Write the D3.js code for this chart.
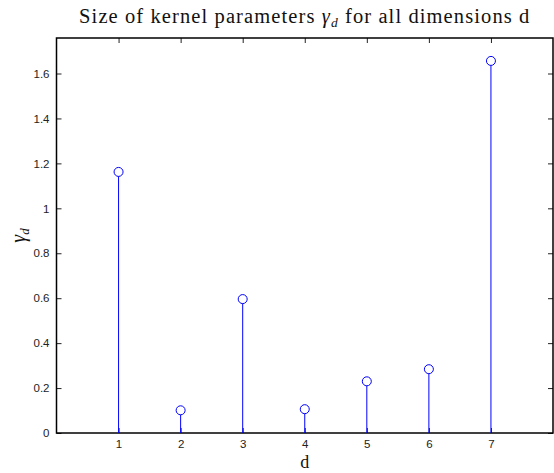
<!DOCTYPE html>
<html>
<head>
<meta charset="utf-8">
<script src="https://cdn.jsdelivr.net/npm/d3@7"></script>
<style>
  body { margin: 0; background: #fff; }
  .tick text { font-family: "Liberation Sans", Arial, sans-serif; font-size: 11.5px; fill: #222; }
</style>
</head>
<body>
<div id="chart"></div>
<script>
var svgWidth = 554;
var svgHeight = 473;
var margin = { top: 38, right: 1, bottom: 40, left: 56.5 };
var width = svgWidth - margin.left - margin.right;
var height = svgHeight - margin.top - margin.bottom;

// data
var dims = [1, 2, 3, 4, 5, 6, 7];
var gammas = [1.162, 0.101, 0.596, 0.106, 0.230, 0.284, 1.656];
var yTicks = [0, 0.2, 0.4, 0.6, 0.8, 1, 1.2, 1.4, 1.6];

var svg = d3.select("#chart")
  .append("svg")
  .attr("width", svgWidth)
  .attr("height", svgHeight);

var chartGroup = svg.append("g")
  .attr("transform", `translate(${margin.left}, ${margin.top})`);

var x = d3.scaleLinear().domain([0, 8]).range([0, width]);
var y = d3.scaleLinear().domain([0, 1.758]).range([height, 0]);

// axes with inward ticks
var bottomAxis = d3.axisBottom(x).tickValues(dims).tickSizeInner(-5).tickSizeOuter(0).tickPadding(7).tickFormat(d3.format("d"));
var leftAxis = d3.axisLeft(y).tickValues(yTicks).tickSizeInner(-5).tickSizeOuter(0).tickPadding(7).tickFormat(d => d === 0 ? "0" : String(+d.toFixed(1)));
var topAxis = d3.axisTop(x).tickValues(dims).tickSizeInner(-5).tickSizeOuter(0).tickFormat("");
var rightAxis = d3.axisRight(y).tickValues(yTicks).tickSizeInner(-5).tickSizeOuter(0).tickFormat("");

chartGroup.append("g").attr("transform", `translate(0, ${height})`).call(bottomAxis);
chartGroup.append("g").call(leftAxis);
chartGroup.append("g").call(topAxis);
chartGroup.append("g").attr("transform", `translate(${width}, 0)`).call(rightAxis);

chartGroup.selectAll(".domain").remove();
chartGroup.selectAll(".tick line").attr("stroke", "#222").attr("stroke-width", 1);

// box
chartGroup.append("rect")
  .attr("x", 0).attr("y", 0)
  .attr("width", width).attr("height", height)
  .attr("fill", "none")
  .attr("stroke", "#000")
  .attr("stroke-width", 1.5);

// stems
chartGroup.selectAll(".stem")
  .data(gammas)
  .enter()
  .append("line")
  .attr("class", "stem")
  .attr("x1", (d, i) => x(dims[i]))
  .attr("x2", (d, i) => x(dims[i]))
  .attr("y1", y(0))
  .attr("y2", d => y(d) + 4.5)
  .attr("stroke", "#0000ff")
  .attr("stroke-width", 1);

chartGroup.selectAll(".marker")
  .data(gammas)
  .enter()
  .append("circle")
  .attr("class", "marker")
  .attr("cx", (d, i) => x(dims[i]))
  .attr("cy", d => y(d))
  .attr("r", 4.5)
  .attr("fill", "none")
  .attr("stroke", "#0000ff")
  .attr("stroke-width", 1);

// title
var title = svg.append("text")
  .attr("x", margin.left + width / 2)
  .attr("y", 23)
  .attr("text-anchor", "middle")
  .attr("font-family", "'Liberation Serif', 'Times New Roman', serif")
  .attr("font-size", "20.5px")
  .attr("letter-spacing", "1.1px")
  .attr("fill", "#111");
title.append("tspan").text("Size of kernel parameters ");
title.append("tspan").attr("font-style", "italic").text("\u03B3");
title.append("tspan").attr("font-style", "italic").attr("font-size", "13.5px").attr("dy", 4).text("d");
title.append("tspan").attr("dy", -4).text(" for all dimensions d");

// x label
svg.append("text")
  .attr("x", margin.left + width / 2)
  .attr("y", 468)
  .attr("text-anchor", "middle")
  .attr("font-family", "'Liberation Serif', 'Times New Roman', serif")
  .attr("font-size", "18px")
  .attr("fill", "#111")
  .text("d");

// y label
var ylab = svg.append("text")
  .attr("transform", `translate(25, ${margin.top + height / 2}) rotate(-90)`)
  .attr("text-anchor", "middle")
  .attr("font-family", "'Liberation Serif', 'Times New Roman', serif")
  .attr("font-size", "20px")
  .attr("fill", "#111");
ylab.append("tspan").attr("font-style", "italic").text("\u03B3");
ylab.append("tspan").attr("font-style", "italic").attr("font-size", "13px").attr("dy", 4).text("d");
</script>
</body>
</html>
